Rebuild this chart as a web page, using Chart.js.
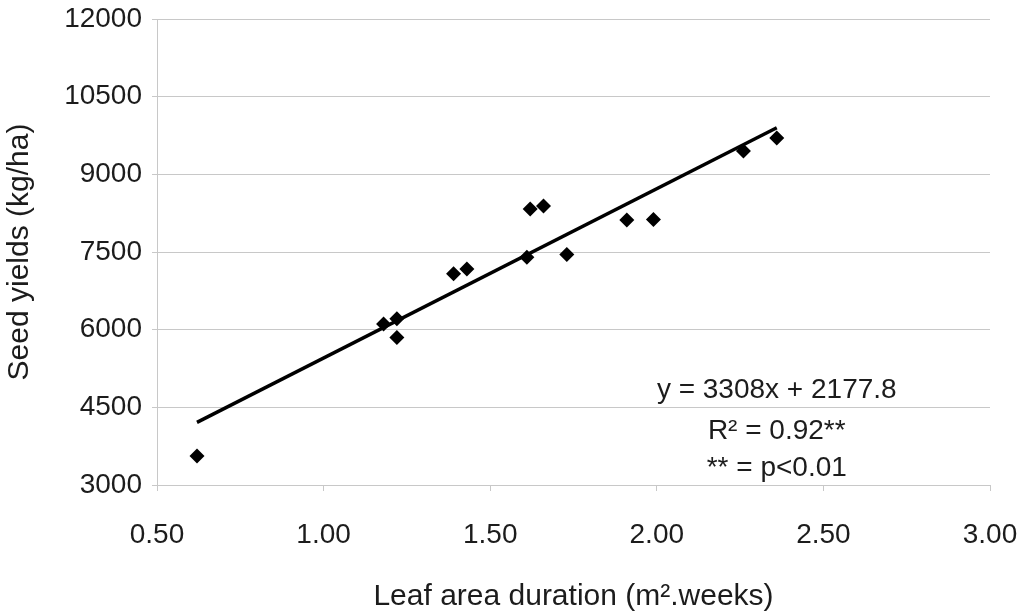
<!DOCTYPE html>
<html>
<head>
<meta charset="utf-8">
<script src="https://cdn.jsdelivr.net/npm/chart.js@4.4.1/dist/chart.umd.min.js"></script>
<style>
  html, body { margin: 0; padding: 0; background: #fff; }
  #wrap { width: 1035px; height: 616px; position: relative; }
</style>
</head>
<body>
<div id="wrap"><canvas id="ladChart"></canvas></div>
<script>
// leaf area duration (m2.weeks) vs seed yield (kg/ha)
const leafAreaDuration = [0.62, 1.18, 1.22, 1.22, 1.39, 1.43, 1.61, 1.62, 1.66, 1.73, 1.91, 1.99, 2.26, 2.36];
const seedYield = [3560, 6110, 6210, 5850, 7080, 7170, 7400, 8330, 8390, 7450, 8120, 8130, 9450, 9700];

// fitted line as drawn (ends of the trend line)
const trendX = [0.62, 2.36];
const trendY = [4210, 9900];

const xTicks = [0.5, 1.0, 1.5, 2.0, 2.5, 3.0];
const yTicks = [3000, 4500, 6000, 7500, 9000, 10500, 12000];

const equationLines = ["y = 3308x + 2177.8", "R\u00b2 = 0.92**", "** = p<0.01"];

const ink = "#1c1c1c";
const gridGrey = "#c8c8c8";
const FONT = "'Liberation Sans', Arial, sans-serif";

const equationLabel = {
  id: "equationLabel",
  afterDatasetsDraw(chart) {
    const { ctx, scales } = chart;
    const cx = scales.x.getPixelForValue(2.36);
    const ys = [4830, 4040, 3330].map(v => scales.y.getPixelForValue(v));
    ctx.save();
    ctx.fillStyle = ink;
    ctx.font = "28px " + FONT;
    ctx.textAlign = "center";
    ctx.textBaseline = "middle";
    equationLines.forEach((t, i) => ctx.fillText(t, cx, ys[i]));
    ctx.restore();
  }
};

new Chart(document.getElementById("ladChart"), {
  type: "scatter",
  data: {
    datasets: [
      {
        label: "Seed yield",
        data: leafAreaDuration.map((x, i) => ({ x, y: seedYield[i] })),
        pointStyle: "rectRot",
        pointRadius: 7.5,
        pointHoverRadius: 7.5,
        backgroundColor: "#000",
        borderColor: "#000",
        borderWidth: 0
      },
      {
        type: "line",
        label: "Trend",
        data: trendX.map((x, i) => ({ x, y: trendY[i] })),
        borderColor: "#000",
        borderWidth: 3.5,
        pointRadius: 0,
        fill: false
      }
    ]
  },
  options: {
    responsive: true,
    maintainAspectRatio: false,
    animation: false,
    layout: { padding: { top: 19, right: 45, left: 0, bottom: 0 } },
    plugins: {
      legend: { display: false },
      tooltip: { enabled: false }
    },
    scales: {
      x: {
        type: "linear",
        min: 0.5,
        max: 3.0,
        afterBuildTicks: s => { s.ticks = xTicks.map(v => ({ value: v })); },
        afterFit: s => { s.height = 131; s.paddingLeft = 0; s.paddingRight = 0; },
        grid: { drawOnChartArea: false, color: gridGrey, tickLength: 6 },
        border: { color: gridGrey },
        ticks: {
          color: ink,
          padding: 27,
          maxRotation: 0,
          font: { family: FONT, size: 28 },
          callback: v => Number(v).toFixed(2)
        },
        title: {
          display: true,
          text: "Leaf area duration (m\u00b2.weeks)",
          color: ink,
          font: { family: FONT, size: 30 },
          padding: { top: 0, bottom: 1 }
        }
      },
      y: {
        min: 3000,
        max: 12000,
        afterBuildTicks: s => { s.ticks = yTicks.map(v => ({ value: v })); },
        afterFit: s => { s.width = 157; s.paddingTop = 0; s.paddingBottom = 0; },
        grid: { color: gridGrey, tickLength: 5 },
        border: { color: gridGrey },
        ticks: {
          color: ink,
          padding: 10,
          font: { family: FONT, size: 28 },
          callback: v => String(v)
        },
        title: {
          display: true,
          text: "Seed yields (kg/ha)",
          color: ink,
          font: { family: FONT, size: 30 },
          padding: { top: 2, bottom: 0 }
        }
      }
    }
  },
  plugins: [equationLabel]
});
</script>
</body>
</html>
